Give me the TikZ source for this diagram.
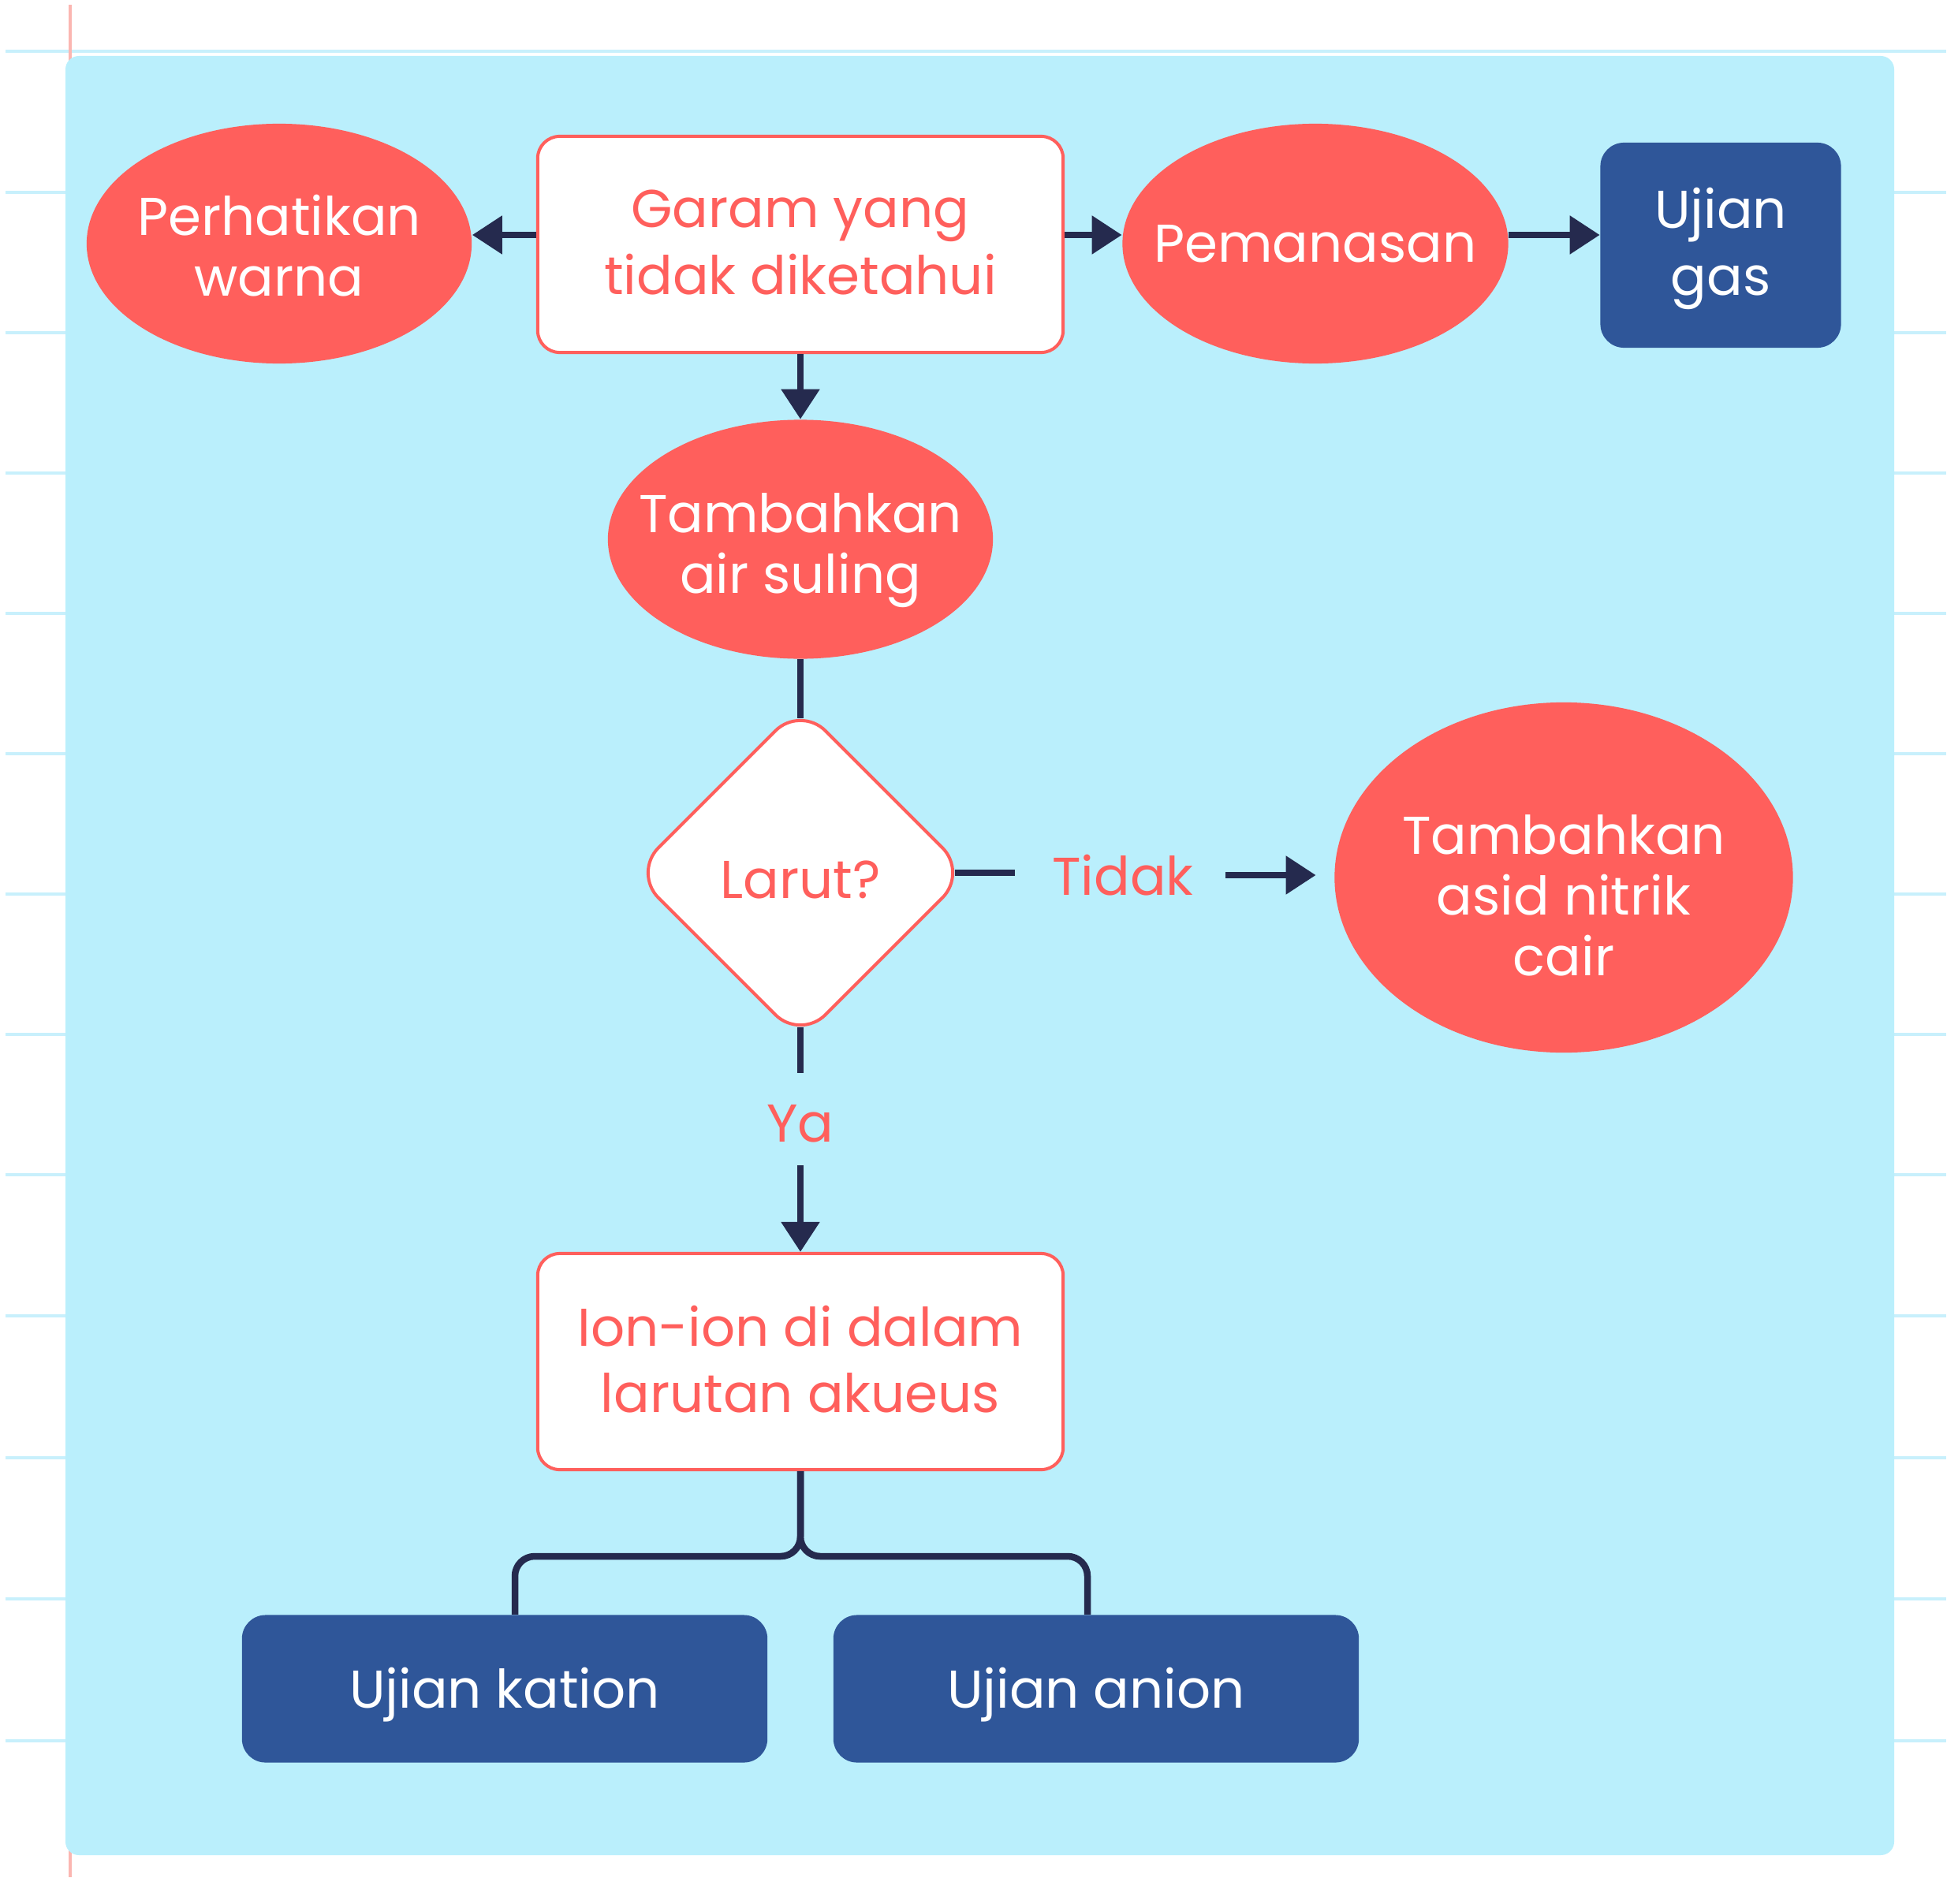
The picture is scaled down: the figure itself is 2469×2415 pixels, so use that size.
\documentclass[tikz,border=0pt]{standalone}
\usepackage{fontspec}
\setmainfont{Poppins}
\usetikzlibrary{shapes.geometric,arrows.meta}

\definecolor{paper}{HTML}{BAEFFC}
\definecolor{ruleblue}{HTML}{C8F0FC}
\definecolor{marginpink}{HTML}{FBB6B1}
\definecolor{coral}{HTML}{FF5F5C}
\definecolor{navy}{HTML}{252A4E}
\definecolor{steel}{HTML}{2F5699}

\tikzset{
  rule line/.style={draw=ruleblue, line width=0.045cm},
  margin line/.style={draw=marginpink, line width=0.035cm},
  box/.style={rectangle, rounded corners=0.28cm, draw=coral, fill=white,
    line width=0.04cm, text=coral, align=center, inner sep=0pt,
    minimum width=6.66cm, minimum height=2.74cm, text depth=0cm,
    font=\fontsize{19.2pt}{23.9pt}\selectfont},
  blob/.style={ellipse, fill=coral, text=white, align=center,
    inner xsep=-0.5cm, inner ysep=0pt,
    font=\fontsize{19.2pt}{21.9pt}\selectfont},
  test/.style={rectangle, rounded corners=0.3cm, fill=steel, text=white,
    align=center, inner sep=0pt, text depth=0cm,
    font=\fontsize{19.2pt}{24.2pt}\selectfont},
  decision/.style={diamond, rounded corners=0.45cm, draw=coral, fill=white,
    line width=0.04cm, text=coral, inner sep=0pt,
    minimum width=4.25cm, minimum height=4.25cm,
    text height=0.64cm, text depth=0cm,
    font=\fontsize{19.2pt}{23.9pt}\selectfont},
  answer/.style={text=coral, inner sep=0pt,
    font=\fontsize{19.2pt}{23.9pt}\selectfont},
  link/.style={draw=navy, line width=0.085cm},
  flow/.style={link, -{Triangle[length=0.38cm,width=0.47cm]}},
}

\begin{document}
\begin{tikzpicture}
        [x=0.01cm,y=-0.01cm]
        \useasboundingbox (0,0) rectangle (2469,2415);
        \foreach \y in {65,244,422,600,778,956,1134,1312,1490,1669,1849,2028,2208}
          \draw [rule line] (7,\y) -- (2468,\y);
        \draw
          [margin line]
          (89,6) -- (89,2381)
        ;
        \fill
          [paper, rounded corners=0.17cm]
          (83,71) rectangle (2402,2353)
        ;
        \node (garam) [box, text height=1.26cm] at (1015,310)
          {Garam yang\\tidak diketahui};
        \node (warna) [blob, minimum width=4.88cm, minimum height=3.04cm,
            text height=1.32cm, text depth=0cm]
          at (354,309) {Perhatikan\\warna};
        \node (panas) [blob, minimum width=4.89cm, minimum height=3.04cm]
          at (1668,309) {Pemanasan};
        \node (gas) [test, minimum width=3.05cm, minimum height=2.6cm,
            text height=1.27cm]
          at (2182,311) {Ujian\\gas};
        \node (suling) [blob, minimum width=4.88cm, minimum height=3.03cm,
            text height=1.37cm, text depth=0cm]
          at (1015,684) {Tambahkan\\air suling};
        \node (larut) [decision] at (1015,1107) {Larut?};
        \node (tidak label) [answer] at (1424,1110) {Tidak};
        \node (nitrik) [blob, minimum width=5.81cm, minimum height=4.44cm,
            text height=2.48cm, text depth=0cm]
          at (1983,1113) {Tambahkan\\asid nitrik\\cair};
        \node (ya label) [answer] at (1015,1425) {Ya};
        \node (ion) [box, text height=1.28cm] at (1015,1727)
          {Ion-ion di dalam\\larutan akueus};
        \node (kation) [test, minimum width=6.66cm, minimum height=1.87cm,
            text height=0.48cm]
          at (640,2142) {Ujian kation};
        \node (anion) [test, minimum width=6.66cm, minimum height=1.87cm,
            text height=0.48cm]
          at (1390,2142) {Ujian anion};
        \coordinate (row) at (0,298);
        \coordinate (split) at (1015,1974);
        \draw [flow]
          (garam.west |- row)
          -- (warna.east |- row)
        ;
        \draw [flow]
          (garam.east |- row)
          -- (panas.west |- row)
        ;
        \draw [flow]
          (panas.east |- row)
          -- (gas.west |- row)
        ;
        \draw [flow]
          (garam.south)
          -- (suling.north)
        ;
        \draw [link, shorten >=-0.19cm]
          (suling.south)
          -- (larut.north)
        ;
        \draw [link, shorten <=-0.19cm, shorten >=0.47cm]
          (larut.east)
          -- (larut.east -| tidak label.west)
        ;
        \draw [flow, shorten <=0.4cm, shorten >=0.23cm]
          (tidak label.east)
          -- (tidak label.east -| nitrik.west)
        ;
        \draw [link, shorten <=-0.19cm, shorten >=0.395cm]
          (larut.south)
          -- (ya label.north)
        ;
        \draw [flow, shorten <=0.285cm]
          (ya label.south)
          -- (ion.north)
        ;
        \draw [link, rounded corners=0.25cm]
          (ion.south)
          -- (split)
          -| ([xshift=0.13cm]kation.north)
        ;
        \draw [link, rounded corners=0.25cm]
          (ion.south)
          -- (split)
          -| ([xshift=-0.11cm]anion.north)
        ;
\end{tikzpicture}
\end{document}
